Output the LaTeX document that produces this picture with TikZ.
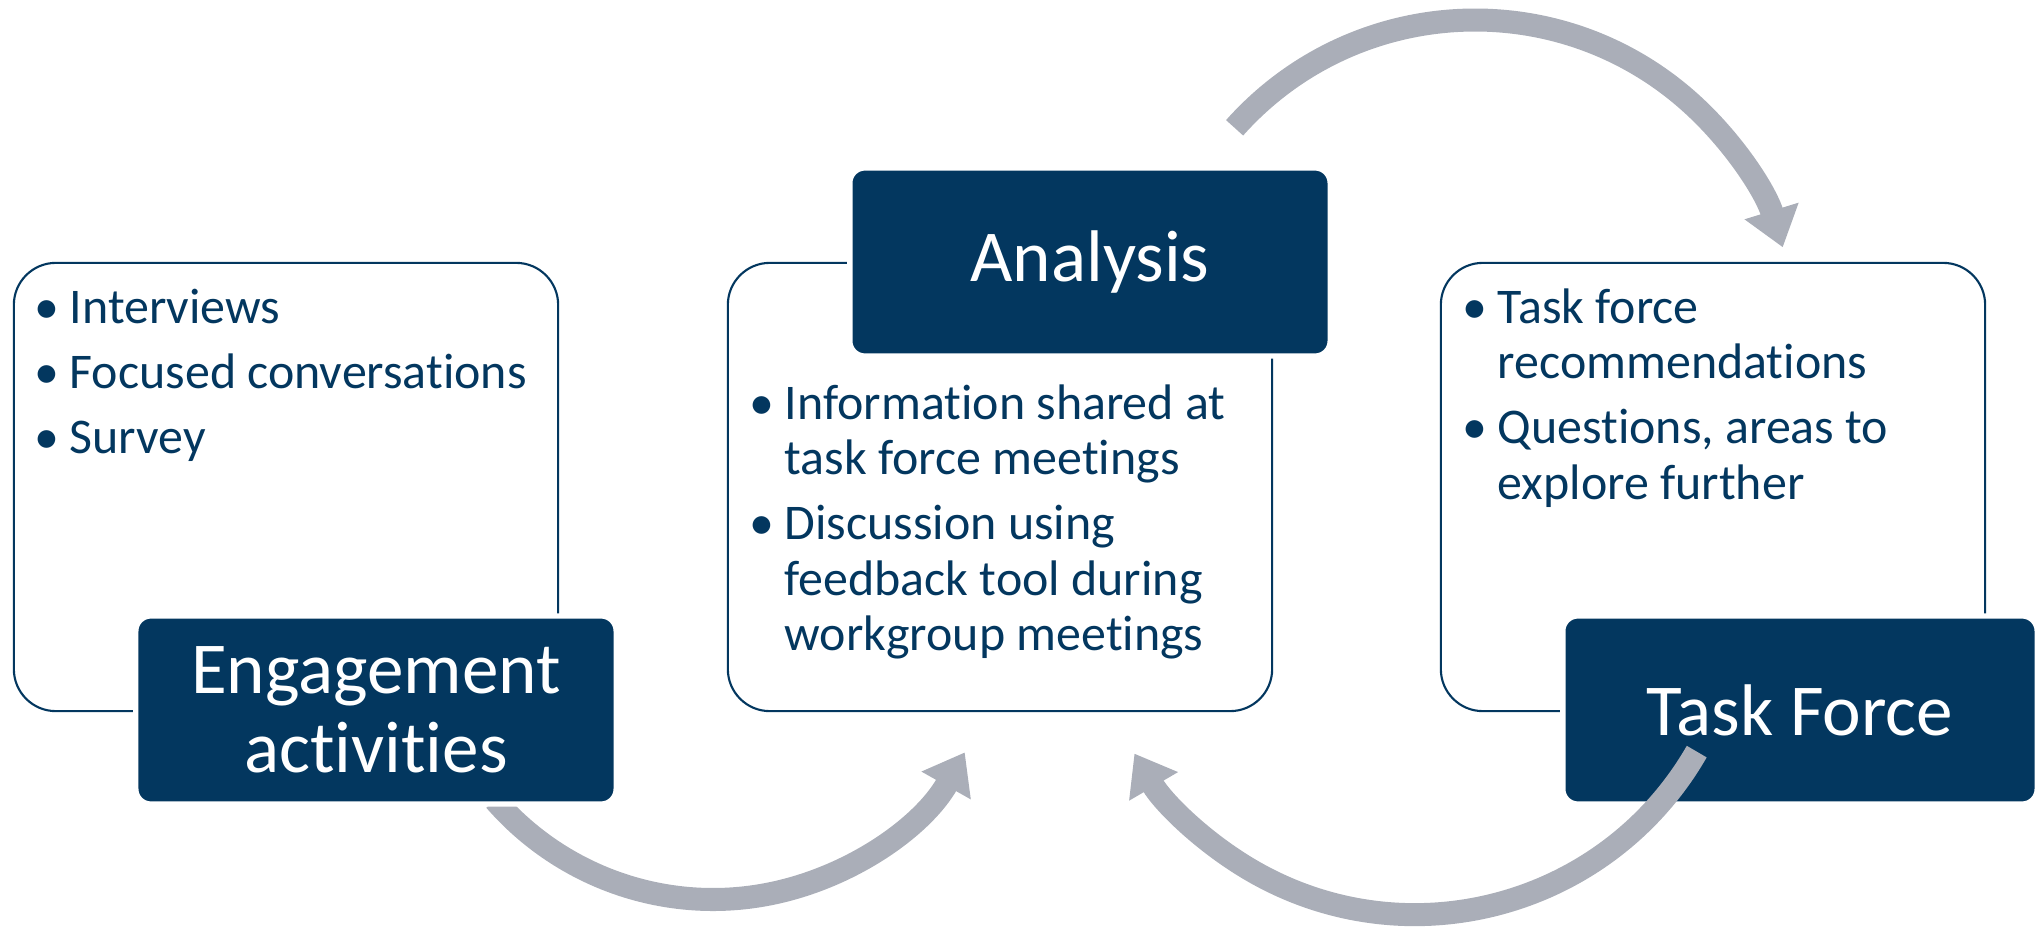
\documentclass[tikz,border=0pt]{standalone}
\usepackage{fontspec}
\setmainfont{Carlito}[RawFeature={-liga;-clig;-calt;-dlig}]
\usetikzlibrary{arrows.meta}

\definecolor{navy}{HTML}{03375F}
\definecolor{arrowgrey}{HTML}{AAAEB8}

\newcommand{\titlefont}{\fontsize{20.8}{22.6}\selectfont}
\newcommand{\listfont}{\fontsize{14.2}{15.8}\selectfont}
\newcommand{\listbullet}{\makebox[0.35cm][l]{\textbullet}}

\begin{document}
\begin{tikzpicture}[x=0.01cm, y=0.01cm,
    listbox/.style={draw=navy, line width=0.6pt, rounded corners=0.42cm, minimum width=5.44cm, minimum height=4.48cm, inner sep=0pt},
    titlebox/.style={fill=navy, draw=white, line width=1.5pt, rounded corners=0.15cm, minimum width=4.8cm, minimum height=1.88cm, text=white, font=\titlefont, align=center, inner sep=0pt},
    listtext/.style={anchor=base west, inner sep=0pt, text=navy, font=\listfont},
    cyclearrow/.style={draw=arrowgrey, line width=0.23cm, -{Triangle[length=0.38cm, width=0.54cm]}}]
        \useasboundingbox (0,0) rectangle (2038,926);

        % Draw list boxes
        \node[listbox] (engbox) at (286,439) {};
        \node[listbox] (analysisbox) at (1000,439) {};
        \node[listbox] (tfbox) at (1713,439) {};

        % Lists
        \node[listtext] (englist) at (34,603) {\begin{tabular}[t]{@{}l@{}l@{}}
            \listbullet & Interviews\\[2.7pt]
            \listbullet & Focused conversations\\[2.7pt]
            \listbullet & Survey
        \end{tabular}};
        \node[listtext] (analysislist) at (749,507) {\begin{tabular}[t]{@{}l@{}l@{}}
            \listbullet & Information shared at\\
                        & task force meetings\\[2.7pt]
            \listbullet & Discussion using\\
                        & feedback tool during\\
                        & workgroup meetings
        \end{tabular}};
        \node[listtext] (tflist) at (1462,603) {\begin{tabular}[t]{@{}l@{}l@{}}
            \listbullet & Task force\\
                        & recommendations\\[2.7pt]
            \listbullet & Questions, areas to\\
                        & explore further
        \end{tabular}};

        % Engagement -> Analysis (under the title box)
        \coordinate (engtail) at ([shift={(221:289)}]713,315.5);
        \draw[cyclearrow] (engtail) arc[start angle=221, end angle=330.6, radius=289];

        % Titles
        \node[titlebox] (engtitle) at (376,216) {Engagement\\activities};
        \node[titlebox] (analysistitle) at (1090,664) {Analysis};
        \node[titlebox, minimum width=4.74cm] (tftitle) at (1800,216) {Task Force};

        % Analysis -> Task Force
        \coordinate (analysistail) at ([shift={(138.3:322)}]1475,584);
        \draw[cyclearrow] (analysistail) arc[start angle=138.3, end angle=17.1, radius=322];

        % Task Force -> Analysis
        \coordinate (tftail) at ([shift={(330.1:325)}]1415,336.4);
        \draw[cyclearrow] (tftail) arc[start angle=330.1, end angle=210.3, radius=325];

    \end{tikzpicture}
\end{document}
